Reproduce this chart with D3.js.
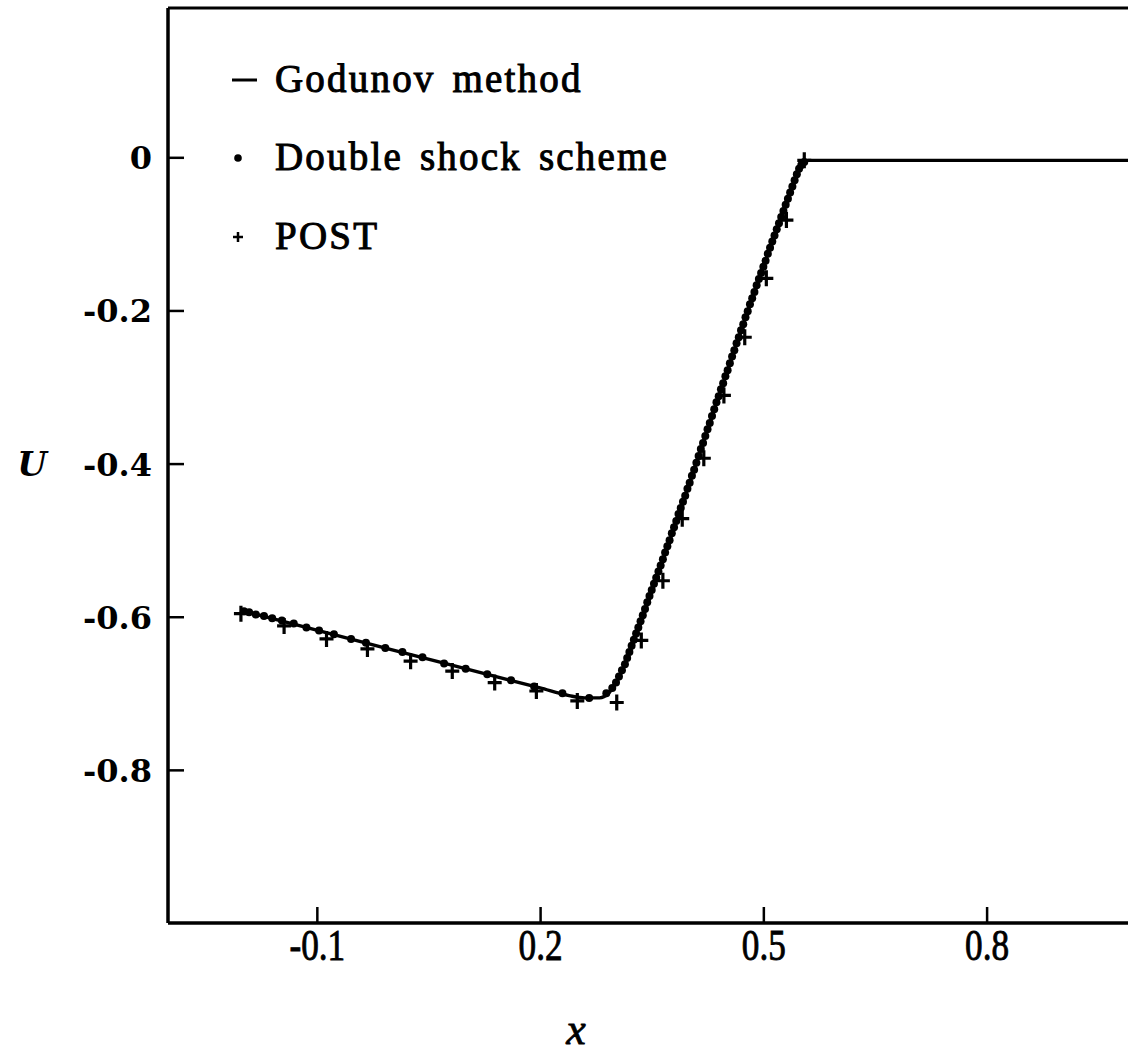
<!DOCTYPE html>
<html>
<head>
<meta charset="utf-8">
<script src="https://cdn.jsdelivr.net/npm/d3@7"></script>
<style>
  body { margin: 0; background: #fff; }
  svg { display: block; }
</style>
</head>
<body>
<svg id="chart" width="1129" height="1060"></svg>
<script>
// Godunov method, drawn as a solid curve
let godunovX = [-0.200, 0.000, 0.200, 0.239, 0.260, 0.280, 0.292, 0.300, 0.315, 0.330, 0.360, 0.400,
                0.440, 0.480, 0.520, 0.540, 0.550, 0.560, 0.990];
let godunovU = [-0.592, -0.643, -0.693, -0.703, -0.706, -0.706, -0.700, -0.690, -0.660, -0.622, -0.540, -0.428,
                -0.312, -0.198, -0.088, -0.035, -0.012, -0.004, -0.004];

// double shock scheme, drawn as dots
let shockX = [-0.198, -0.191, -0.182, -0.171, -0.160, -0.147, -0.131, -0.114, -0.097, -0.077, -0.054, -0.034,
              -0.008, 0.015, 0.042, 0.071, 0.100, 0.129, 0.161, 0.192, 0.230, 0.266,
              0.289, 0.297, 0.302, 0.306, 0.310, 0.314, 0.317, 0.320, 0.323, 0.326, 0.329, 0.332,
              0.335, 0.338, 0.341, 0.344, 0.347, 0.350, 0.353, 0.356, 0.359, 0.362, 0.365, 0.368,
              0.371, 0.374, 0.377, 0.380, 0.383, 0.386, 0.389, 0.392, 0.395, 0.398, 0.401, 0.404,
              0.407, 0.410, 0.413, 0.416, 0.419, 0.422, 0.425, 0.428, 0.431, 0.434, 0.437, 0.440,
              0.443, 0.446, 0.449, 0.452, 0.455, 0.458, 0.461, 0.464, 0.467, 0.470, 0.473, 0.476,
              0.479, 0.482, 0.485, 0.488, 0.491, 0.494, 0.497, 0.500, 0.503, 0.506, 0.509, 0.512,
              0.515, 0.518, 0.521, 0.524, 0.527, 0.530, 0.533, 0.536, 0.539, 0.542, 0.545, 0.548,
              0.551, 0.555];
let shockU = [-0.593, -0.594, -0.597, -0.599, -0.602, -0.605, -0.609, -0.614, -0.618, -0.623, -0.629, -0.634,
              -0.641, -0.646, -0.653, -0.661, -0.668, -0.675, -0.683, -0.691, -0.700, -0.706,
              -0.700, -0.693, -0.686, -0.678, -0.670, -0.662, -0.654, -0.646, -0.638, -0.630, -0.622, -0.614,
              -0.606, -0.598, -0.590, -0.581, -0.573, -0.565, -0.557, -0.549, -0.541, -0.533, -0.525, -0.516,
              -0.508, -0.500, -0.491, -0.483, -0.475, -0.466, -0.458, -0.450, -0.442, -0.433, -0.425, -0.416,
              -0.408, -0.399, -0.390, -0.381, -0.373, -0.364, -0.355, -0.347, -0.338, -0.329, -0.320, -0.312,
              -0.303, -0.295, -0.286, -0.278, -0.269, -0.260, -0.252, -0.243, -0.235, -0.226, -0.218, -0.209,
              -0.201, -0.192, -0.184, -0.176, -0.167, -0.159, -0.151, -0.143, -0.135, -0.126, -0.118, -0.110,
              -0.102, -0.094, -0.086, -0.078, -0.070, -0.062, -0.054, -0.046, -0.038, -0.030, -0.022, -0.015,
              -0.010, -0.006];

// POST results, drawn as crosses
let postX = [-0.202, -0.144, -0.087, -0.032, 0.026, 0.082, 0.139, 0.195, 0.250, 0.303,
             0.336, 0.365, 0.391, 0.420, 0.447, 0.475, 0.504, 0.531, 0.555];
let postU = [-0.596, -0.612, -0.629, -0.642, -0.658, -0.671, -0.686, -0.697, -0.710, -0.712,
             -0.631, -0.553, -0.472, -0.393, -0.311, -0.235, -0.158, -0.082, -0.004];

let xTicks = [-0.1, 0.2, 0.5, 0.8];
let yTicks = [0, -0.2, -0.4, -0.6, -0.8];
let legendLabels = ['Godunov method', 'Double shock scheme', 'POST'];

let svg = d3.select('#chart');

// plot frame: the left and bottom axes carry inward ticks, the frame is open at the right
let x = d3.scaleLinear().domain([-0.3, 0.99]).range([168, 1128]);
let y = d3.scaleLinear().domain([-1.0, 0.195]).range([923, 8]);

let ink = '#000';

// plain hyphen for negatives, single 0 at the origin
let fmt = d => d === 0 ? '0' : d.toFixed(1);

// top border of the frame
svg.append('line')
    .attr('x1', x.range()[0]).attr('x2', x.range()[1])
    .attr('y1', y.range()[1]).attr('y2', y.range()[1])
    .attr('stroke', ink).attr('stroke-width', 3);

// y axis, ticks point into the plot
let yAxis = d3.axisRight(y)
    .tickValues(yTicks)
    .tickSize(16)
    .tickFormat(fmt);
let gy = svg.append('g')
    .attr('transform', `translate(${x.range()[0]},0)`)
    .call(yAxis);
gy.select('.domain').attr('stroke-width', 3.5).attr('d', `M0,${y.range()[1]}V${y.range()[0]}`);
gy.selectAll('.tick line').attr('stroke-width', 2.5);
gy.selectAll('.tick text')
    .attr('x', -16)
    .attr('dy', '0.36em')
    .attr('text-anchor', 'end')
    .attr('font-family', '"DejaVu Serif", serif')
    .attr('font-weight', 'bold')
    .attr('font-size', 32)
    .attr('fill', ink);

// x axis, ticks point up into the plot
let xAxis = d3.axisBottom(x)
    .tickValues(xTicks)
    .tickSize(-16)
    .tickFormat(fmt);
let gx = svg.append('g')
    .attr('transform', `translate(0,${y.range()[0]})`)
    .call(xAxis);
gx.select('.domain').attr('stroke-width', 3.5).attr('d', `M${x.range()[0]},0H${x.range()[1]}`);
gx.selectAll('.tick line').attr('stroke-width', 2.5);
gx.selectAll('.tick text')
    .attr('y', 37)
    .attr('dy', 0)
    .attr('transform', 'scale(0.8,1)')
    .attr('font-family', '"Liberation Serif", serif')
    .attr('font-size', 44)
    .attr('stroke', ink).attr('stroke-width', 0.9)
    .attr('fill', ink);

// axis titles
svg.append('text')
    .attr('x', 32).attr('y', 476)
    .attr('text-anchor', 'middle')
    .attr('font-family', '"DejaVu Serif", serif')
    .attr('font-style', 'italic').attr('font-weight', 'bold')
    .attr('font-size', 34)
    .text('U');
svg.append('text')
    .attr('x', 576).attr('y', 1044)
    .attr('text-anchor', 'middle')
    .attr('font-family', '"Liberation Serif", serif')
    .attr('font-style', 'italic')
    .attr('font-size', 44)
    .attr('stroke', ink).attr('stroke-width', 0.8)
    .text('x');

// Godunov curve
let godunov = godunovX.map((v, i) => [v, godunovU[i]]);
svg.append('path')
    .datum(godunov)
    .attr('fill', 'none')
    .attr('stroke', ink)
    .attr('stroke-width', 3.4)
    .attr('stroke-linejoin', 'round')
    .attr('d', d3.line().x(d => x(d[0])).y(d => y(d[1])).curve(d3.curveMonotoneX));

// double shock dots
let shock = shockX.map((v, i) => [v, shockU[i]]);
svg.append('g').selectAll('circle')
    .data(shock)
    .join('circle')
    .attr('cx', d => x(d[0]))
    .attr('cy', d => y(d[1]))
    .attr('r', 4)
    .attr('fill', ink);

// POST crosses
let cross = 'M-7,0H7M0,-8V8';
let post = postX.map((v, i) => [v, postU[i]]);
svg.append('g').selectAll('path')
    .data(post)
    .join('path')
    .attr('transform', d => `translate(${x(d[0])},${y(d[1])})`)
    .attr('d', cross)
    .attr('stroke', ink)
    .attr('stroke-width', 3.2)
    .attr('fill', 'none');

// legend in the upper left corner of the plot
let legendRows = [80, 158, 237];
let legend = svg.append('g');
legend.append('line')
    .attr('x1', 232).attr('x2', 257)
    .attr('y1', legendRows[0]).attr('y2', legendRows[0])
    .attr('stroke', ink).attr('stroke-width', 3);
legend.append('circle')
    .attr('cx', 238).attr('cy', legendRows[1])
    .attr('r', 3.8).attr('fill', ink);
legend.append('path')
    .attr('transform', `translate(238,${legendRows[2]})`)
    .attr('d', 'M-5,0H5M0,-5V5')
    .attr('stroke', ink).attr('stroke-width', 2.5);
legend.selectAll('text')
    .data(legendLabels)
    .join('text')
    .attr('x', 275)
    .attr('y', (d, i) => legendRows[i] + 12)
    .attr('font-family', '"Liberation Serif", serif')
    .attr('font-size', 39)
    .attr('letter-spacing', 2.2)
    .attr('word-spacing', 5)
    .attr('stroke', ink).attr('stroke-width', 1)
    .attr('fill', ink)
    .text(d => d);
</script>
</body>
</html>
